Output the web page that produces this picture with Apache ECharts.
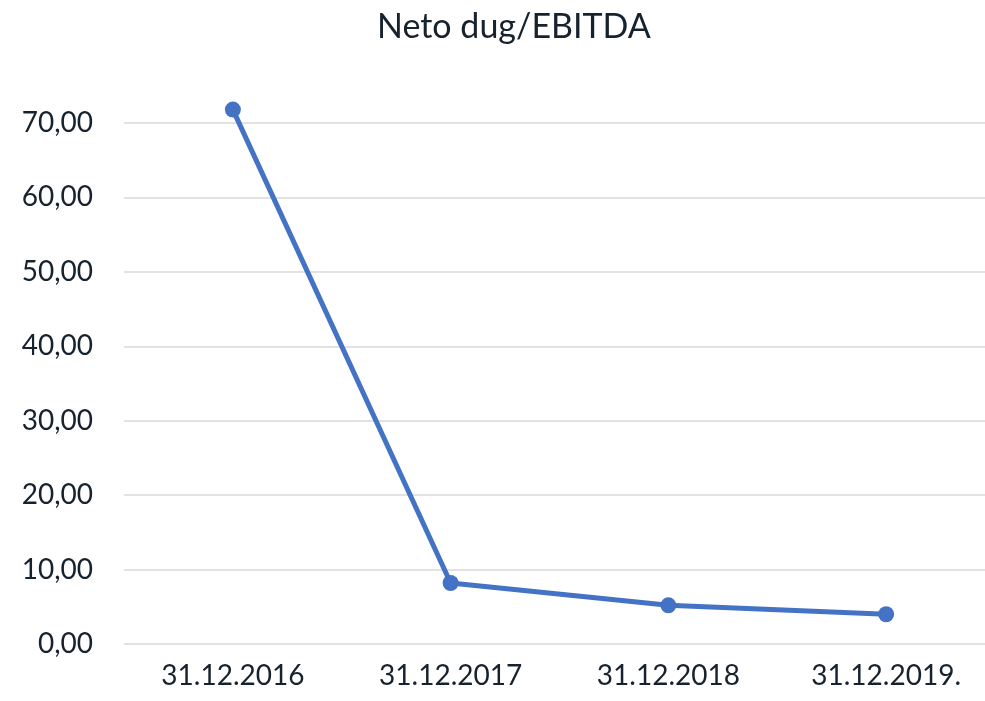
<!DOCTYPE html>
<html>
<head>
<meta charset="utf-8">
<script src="https://cdn.jsdelivr.net/npm/echarts@6/dist/echarts.min.js"></script>
<style>
    html, body { margin: 0; padding: 0; background: #fff; }
    #chart { width: 985px; height: 701px; }
</style>
</head>
<body>
<div id="chart"></div>
<script>
var categories = ['31.12.2016', '31.12.2017', '31.12.2018', '31.12.2019.'];
var values = [71.8, 8.2, 5.2, 4.0];
var yMin = 0;
var yMax = 70;
var yStep = 10;

var textColor = '#16222e';
var myChart = echarts.init(document.getElementById('chart'));

var option = {
    backgroundColor: '#ffffff',
    animation: false,
    title: {
        text: 'Neto dug/EBITDA',
        left: 372,
        top: 5,
        textStyle: {
            fontFamily: 'Lato',
            fontSize: 34,
            fontWeight: 'normal',
            color: textColor
        }
    },
    grid: {
        left: 124,
        top: 123,
        width: 871,
        height: 521,
        outerBoundsMode: 'none'
    },
    xAxis: {
        type: 'category',
        data: categories,
        boundaryGap: true,
        axisLine: { show: false },
        axisTick: { show: false },
        axisLabel: {
            fontFamily: 'Lato',
            fontSize: 28,
            color: textColor,
            margin: 18
        }
    },
    yAxis: {
        type: 'value',
        min: yMin,
        max: yMax,
        interval: yStep,
        axisLine: { show: false },
        axisTick: { show: false },
        axisLabel: {
            fontFamily: 'Lato',
            fontSize: 28,
            color: textColor,
            margin: 31,
            formatter: function (v) {
                return v.toFixed(2).replace('.', ',');
            }
        },
        splitLine: {
            lineStyle: { color: '#d9d9d9', width: 1.5 }
        }
    },
    series: [
        {
            type: 'line',
            data: values,
            clip: false,
            symbol: 'circle',
            symbolSize: 16,
            lineStyle: { color: '#4472c4', width: 5 },
            itemStyle: { color: '#4472c4' }
        }
    ]
};

myChart.setOption(option);
</script>
</body>
</html>
